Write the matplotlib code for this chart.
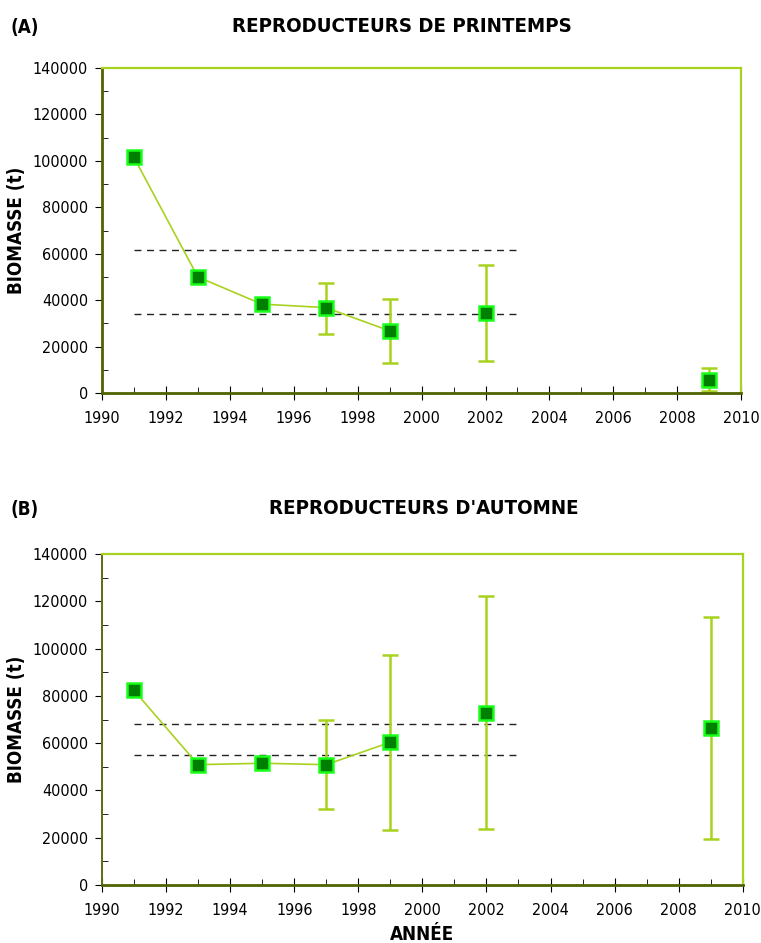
import numpy as np
import matplotlib
matplotlib.use("Agg")
from matplotlib import pyplot as plt
from matplotlib.ticker import MultipleLocator

plt.rcParams['font.family'] = ['DejaVu Sans']
plt.rcParams['font.stretch'] = 'condensed'

# Printemps (A)
years_a = [1991, 1993, 1995, 1997, 1999, 2002, 2009]
biom_a = [101500, 50000, 38300, 36800, 26800, 34500, 5800]
low_a = [np.nan, np.nan, np.nan, 25600, 13000, 13800, 1000]
high_a = [np.nan, np.nan, np.nan, 47600, 40600, 55200, 10800]
ref_a = [61600, 34200]

# Automne (B)
years_b = [1991, 1993, 1995, 1997, 1999, 2002, 2009]
biom_b = [82300, 50900, 51500, 50900, 60400, 72900, 66300]
low_b = [np.nan, np.nan, np.nan, 32300, 23300, 23600, 19400]
high_b = [np.nan, np.nan, np.nan, 69800, 97300, 122200, 113300]
ref_b = [68200, 54800]

ref_years = [1991, 2003]

LINE = '#a8d21e'
DARK = '#4f6300'


def panel(ax, years, vals, low, high, refs, left_spine):
    years = np.array(years)
    vals = np.array(vals, dtype=float)
    low = np.array(low, dtype=float)
    high = np.array(high, dtype=float)

    # line joins the consecutive survey years only (up to 1999)
    ax.plot(years[:5], vals[:5], color=LINE, lw=1.2, zorder=2)

    err = np.vstack([vals - low, high - vals])
    m = ~np.isnan(low)
    ax.errorbar(years[m], vals[m], yerr=err[:, m], fmt='none', ecolor=LINE,
                elinewidth=1.8, capsize=6, capthick=1.8, zorder=2)

    for r in refs:
        ax.plot(ref_years, [r, r], color='#222222', lw=1.0, ls=(0, (5, 4)), zorder=1)

    ax.plot(years, vals, ls='none', marker='s', ms=10, mfc='#008000',
            mec='#19ff19', mew=1.8, zorder=3)

    ax.set_xlim(1990, 2010)
    ax.set_ylim(0, 140000)
    ax.xaxis.set_major_locator(MultipleLocator(2))
    ax.xaxis.set_minor_locator(MultipleLocator(1))
    ax.yaxis.set_major_locator(MultipleLocator(20000))
    ax.yaxis.set_minor_locator(MultipleLocator(10000))
    ax.tick_params(axis='x', which='major', direction='inout', length=10, labelsize=11.5, pad=8)
    ax.tick_params(axis='x', which='minor', direction='in', length=4)
    ax.tick_params(axis='y', which='major', direction='out', length=5, labelsize=11.5, pad=5)
    ax.tick_params(axis='y', which='minor', direction='in', length=4)

    for s in ['top', 'right']:
        ax.spines[s].set_color(LINE)
        ax.spines[s].set_linewidth(1.6)
    ax.spines['bottom'].set_color(DARK)
    ax.spines['bottom'].set_linewidth(2.0)
    ax.spines['left'].set_color(left_spine[0])
    ax.spines['left'].set_linewidth(left_spine[1])

    ax.set_ylabel('BIOMASSE (t)', fontsize=13.5, fontweight='bold', labelpad=5)


fig = plt.figure(figsize=(7.61, 9.43), dpi=100)
ax1 = fig.add_axes([0.134, 0.5832, 0.840, 0.3447])
ax2 = fig.add_axes([0.134, 0.0615, 0.842, 0.3510])

panel(ax1, years_a, biom_a, low_a, high_a, ref_a, (DARK, 2.0))
panel(ax2, years_b, biom_b, low_b, high_b, ref_b, ('#5d6e12', 1.4))
ax2.set_xlabel('ANNÉE', fontsize=13.5, fontweight='bold', labelpad=5)

fig.text(10 / 761, 1 - 27 / 943, '(A)', fontsize=13.5, fontweight='bold', ha='left', va='center')
fig.text(402 / 761, 1 - 27 / 943, 'REPRODUCTEURS DE PRINTEMPS', fontsize=14.7,
         fontweight='bold', ha='center', va='center')
fig.text(10 / 761, 1 - 510 / 943, '(B)', fontsize=13.5, fontweight='bold', ha='left', va='center')
fig.text(424 / 761, 1 - 508 / 943, "REPRODUCTEURS D'AUTOMNE", fontsize=14.7,
         fontweight='bold', ha='center', va='center')

fig.savefig('out.png', dpi=100)
